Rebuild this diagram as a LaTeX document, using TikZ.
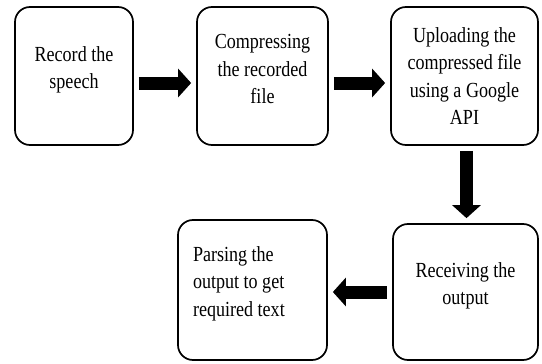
\documentclass[tikz,border=0pt]{standalone}
\usepackage{fontspec}
\setmainfont{Liberation Serif}[FakeStretch=0.84]
\usetikzlibrary{arrows.meta}

\tikzset{
    block/.style={draw, line width=1.7pt, rounded corners=15pt, align=center,
                  font=\fontsize{21.5}{27.5}\selectfont},
    flow/.style={line width=13pt, -{Triangle[length=13pt, width=28pt]},
                 shorten <=5pt, shorten >=5pt}
}

\begin{document}
\begin{tikzpicture}[x=1pt, y=-1pt]
    \useasboundingbox (0,0) rectangle (542,364);
    \node[block, minimum width=118pt, minimum height=138pt, text depth=17pt] (rec) at (74,76) {Record the\\speech};
    \node[block, minimum width=131pt, minimum height=138pt, text depth=14pt] (comp) at (262.5,76) {Compressing\\the recorded\\file};
    \node[block, minimum width=147pt, minimum height=138pt] (upl) at (464.5,76) {Uploading the\\compressed file\\using a Google\\API};
    \node[block, minimum width=145pt, minimum height=136pt, text depth=17pt] (recv) at (465.5,292) {Receiving the\\output};
    \node[block, minimum width=149pt, minimum height=140pt, text depth=72pt, text width=119pt, align=flush left] (pars) at (252.5,290) {Parsing the\\output to get\\required text};
    \draw[flow] ([yshift=-7pt]rec.east) -- ([yshift=-7pt]comp.west);
    \draw[flow] ([yshift=-7pt]comp.east) -- ([yshift=-7pt]upl.west);
    \draw[flow] ([xshift=2pt]upl.south) -- ([xshift=1pt]recv.north);
    \draw[flow] (recv.west) -- (recv.west -| pars.east);
\end{tikzpicture}
\end{document}
